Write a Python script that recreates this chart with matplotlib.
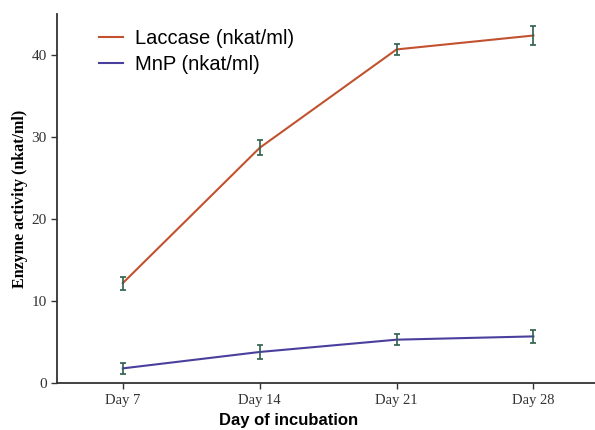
import matplotlib
matplotlib.use("Agg")
import matplotlib.pyplot as plt

days = ["Day 7", "Day 14", "Day 21", "Day 28"]
laccase = [12.2, 28.7, 40.7, 42.4]
laccase_err = [0.8, 0.9, 0.7, 1.2]
mnp = [1.8, 3.8, 5.3, 5.7]
mnp_err = [0.7, 0.9, 0.7, 0.8]

x = list(range(1, len(days) + 1))

fig = plt.figure(figsize=(5.95, 4.30), dpi=100)
ax = fig.add_axes([0.096, 0.109, 0.904, 0.858])

ax.plot(x, laccase, color="#c2522f", lw=1.5, label="Laccase (nkat/ml)")
ax.plot(x, mnp, color="#4b3f9e", lw=1.5, label="MnP (nkat/ml)")
ax.errorbar(x, laccase, yerr=laccase_err, fmt="none", ecolor="#2f5f4a", elinewidth=1.2, capsize=2, capthick=1.2)
ax.errorbar(x, mnp, yerr=mnp_err, fmt="none", ecolor="#2f5f4a", elinewidth=1.2, capsize=2, capthick=1.2)

ax.set_xlim(0.52, 4.45)
ax.set_ylim(0, 45)
ax.set_xticks(x)
ax.set_xticklabels(days, family="Liberation Serif", fontsize=10.5)
ax.set_yticks([0, 10, 20, 30, 40])
ax.set_yticklabels(["0", "10", "20", "30", "40"], family="Liberation Serif", fontsize=11)
ax.tick_params(length=4, width=1, color="#333333", labelcolor="#333333")

for s in ["top", "right"]:
    ax.spines[s].set_visible(False)
for s in ["left", "bottom"]:
    ax.spines[s].set_linewidth(1.3)
    ax.spines[s].set_color("#333333")

ax.set_xlabel("Day of incubation", family="Liberation Sans", fontweight="bold", fontsize=12)
ax.xaxis.set_label_coords(0.431, -0.08)
ax.set_ylabel("Enzyme activity (nkat/ml)", family="Liberation Serif", fontweight="bold", fontsize=11.5)
ax.yaxis.set_label_coords(-0.055, 0.5)

ax.legend(loc="upper left", bbox_to_anchor=(0.044, 1.01), frameon=False, handlelength=1.2, handletextpad=0.6,
          prop={"family": "Liberation Sans", "size": 14.5}, labelspacing=0.35)

fig.savefig("out.png", dpi=100)
